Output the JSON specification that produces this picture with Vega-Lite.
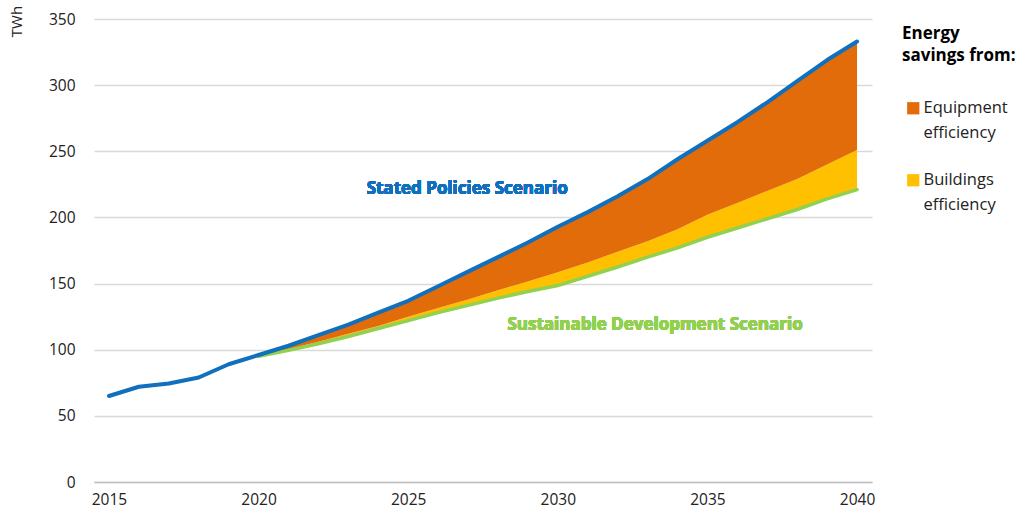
{
  "$schema": "https://vega.github.io/schema/vega-lite/v6.json",
  "width": 778,
  "height": 463,
  "autosize": {"type": "none"},
  "padding": {"left": 94, "top": 19, "right": 154, "bottom": 32},
  "background": "white",
  "config": {
    "font": "Open Sans",
    "view": {"stroke": null},
    "axis": {"labelFont": "Open Sans", "titleFont": "Open Sans", "labelColor": "#222222", "titleColor": "#222222"},
    "legend": {"labelFont": "Open Sans", "titleFont": "Open Sans"},
    "style": {"guide-label": {"lineHeight": 25}}
  },
  "data": {
    "values": [
      {"year": 2015, "stated": 65, "bld": null, "sds": null},
      {"year": 2016, "stated": 72, "bld": null, "sds": null},
      {"year": 2017, "stated": 74.5, "bld": null, "sds": null},
      {"year": 2018, "stated": 79, "bld": null, "sds": null},
      {"year": 2019, "stated": 89, "bld": null, "sds": null},
      {"year": 2020, "stated": 96, "bld": 95.5, "sds": 95},
      {"year": 2021, "stated": 103, "bld": 100.5, "sds": 99.5},
      {"year": 2022, "stated": 111, "bld": 106, "sds": 104.5},
      {"year": 2023, "stated": 119, "bld": 112, "sds": 110},
      {"year": 2024, "stated": 128, "bld": 118, "sds": 116},
      {"year": 2025, "stated": 137, "bld": 125, "sds": 122},
      {"year": 2026, "stated": 148, "bld": 131.5, "sds": 128},
      {"year": 2027, "stated": 159, "bld": 138, "sds": 133.5},
      {"year": 2028, "stated": 170, "bld": 145, "sds": 139},
      {"year": 2029, "stated": 181, "bld": 151.5, "sds": 144},
      {"year": 2030, "stated": 193, "bld": 158.5, "sds": 148.5},
      {"year": 2031, "stated": 204, "bld": 166, "sds": 155.5},
      {"year": 2032, "stated": 216, "bld": 174, "sds": 162.5},
      {"year": 2033, "stated": 229, "bld": 182, "sds": 170},
      {"year": 2034, "stated": 244, "bld": 191, "sds": 177},
      {"year": 2035, "stated": 258, "bld": 202, "sds": 185},
      {"year": 2036, "stated": 272, "bld": 211, "sds": 192},
      {"year": 2037, "stated": 287, "bld": 220, "sds": 199},
      {"year": 2038, "stated": 303, "bld": 229, "sds": 206},
      {"year": 2039, "stated": 319, "bld": 240, "sds": 214},
      {"year": 2040, "stated": 333, "bld": 251, "sds": 221}
    ]
  },
  "encoding": {
    "x": {
      "field": "year",
      "type": "quantitative",
      "scale": {"domain": [2014.5, 2040.5], "nice": false, "zero": false},
      "axis": {
        "title": null,
        "values": [2015, 2020, 2025, 2030, 2035, 2040],
        "format": "d",
        "grid": false,
        "ticks": false,
        "domain": true,
        "domainColor": "#bfbfbf",
        "domainWidth": 1.5,
        "labelFontSize": 15.5,
        "labelPadding": 10
      }
    }
  },
  "layer": [
    {
      "transform": [{"filter": "datum.sds != null"}],
      "mark": {"type": "area", "opacity": 1, "interpolate": "linear"},
      "encoding": {
        "y": {
          "field": "sds",
          "type": "quantitative",
          "scale": {"domain": [0, 350], "nice": false},
          "axis": {
            "title": "TWh",
            "titleFontSize": 15,
            "titleFontWeight": "normal",
            "titleAngle": 270,
            "titleAlign": "center",
            "titleBaseline": "middle",
            "titleX": -78,
            "titleY": 2,
            "values": [0, 50, 100, 150, 200, 250, 300, 350],
            "grid": true,
            "gridColor": "#d9d9d9",
            "gridWidth": 1.5,
            "domain": false,
            "ticks": false,
            "labelFontSize": 15.5,
            "labelPadding": 19
          }
        },
        "y2": {"field": "bld"},
        "color": {
          "datum": "Buildings efficiency",
          "type": "nominal",
          "scale": {"domain": ["Equipment efficiency", "Buildings efficiency"], "range": ["#e36c0a", "#ffc000"]},
          "legend": {
            "orient": "none",
            "legendX": 808,
            "legendY": 7,
            "title": ["Energy", "savings from:"],
            "titleFontSize": 17,
            "titleFontWeight": "bold",
            "titleColor": "#000000",
            "titleLineHeight": 22,
            "titlePadding": 35,
            "symbolType": "square",
            "symbolSize": 150,
            "symbolStrokeWidth": 0,
            "symbolOpacity": 1,
            "symbolOffset": 3,
            "labelFontSize": 16.5,
            "labelColor": "#222222",
            "labelOffset": 2,
            "labelExpr": "datum.label == 'Equipment efficiency' ? ['Equipment', 'efficiency'] : ['Buildings', 'efficiency']",
            "labelBaseline": "middle",
            "rowPadding": 30
          }
        }
      }
    },
    {
      "transform": [{"filter": "datum.sds != null"}],
      "mark": {"type": "area", "opacity": 1, "interpolate": "linear"},
      "encoding": {
        "y": {"field": "bld", "type": "quantitative"},
        "y2": {"field": "stated"},
        "color": {"datum": "Equipment efficiency", "type": "nominal"}
      }
    },
    {
      "transform": [{"filter": "datum.sds != null"}],
      "mark": {"type": "line", "color": "#92d050", "strokeWidth": 3.5, "strokeCap": "round"},
      "encoding": {"y": {"field": "sds", "type": "quantitative"}}
    },
    {
      "mark": {"type": "line", "color": "#1170bd", "strokeWidth": 4, "strokeCap": "round", "strokeJoin": "round"},
      "encoding": {"y": {"field": "stated", "type": "quantitative"}}
    },
    {
      "mark": {"type": "text", "font": "Open Sans", "fontWeight": "bold", "fontSize": 17, "color": "#1170bd", "align": "center", "baseline": "middle"},
      "encoding": {
        "x": {"datum": 2026.97, "type": "quantitative"},
        "y": {"datum": 221.5, "type": "quantitative"},
        "text": {"value": "Stated Policies Scenario"}
      }
    },
    {
      "mark": {"type": "text", "font": "Open Sans", "fontWeight": "bold", "fontSize": 17, "color": "#92d050", "align": "center", "baseline": "middle"},
      "encoding": {
        "x": {"datum": 2033.25, "type": "quantitative"},
        "y": {"datum": 118.5, "type": "quantitative"},
        "text": {"value": "Sustainable Development Scenario"}
      }
    }
  ]
}
